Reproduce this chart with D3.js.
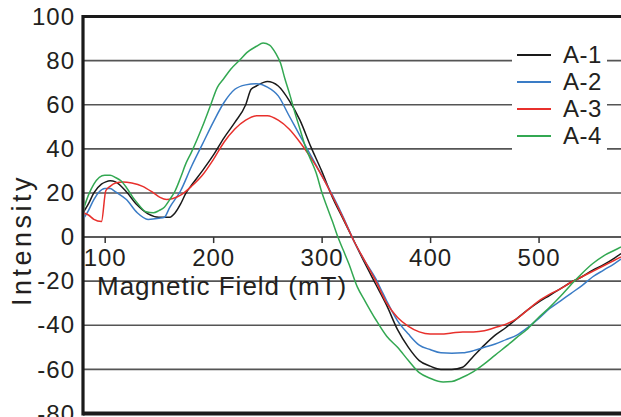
<!DOCTYPE html>
<html>
<head>
<meta charset="utf-8">
<script src="https://cdn.jsdelivr.net/npm/d3@7"></script>
<style>
    html, body { margin: 0; padding: 0; background: #ffffff; overflow: hidden; }
    #wrapper { width: 621px; height: 417px; }
    text { font-family: "Liberation Sans", Arial, sans-serif; fill: #231f20; }
</style>
</head>
<body>
<div id="wrapper"></div>
<script>
// series: field (mT) and intensity
const fieldA1 = [80, 85, 90, 97, 101, 105, 110, 120, 130, 140, 150, 160, 165, 170, 175, 180, 190, 200, 210, 220, 230, 235, 240, 250, 260, 270, 280, 290, 300, 310, 320, 330, 340, 350, 360, 370, 380, 390, 400, 410, 420, 430, 440, 450, 460, 470, 480, 490, 500, 510, 520, 530, 540, 550, 560, 570, 576];
const intensityA1 = [11, 15, 20, 24, 25, 25.5, 25, 20.5, 14.5, 10.5, 9, 9, 11, 15, 20, 23.5, 30, 37, 45, 52, 60, 67, 68.5, 70.5, 68.5, 62, 53, 41, 30, 18, 8, -2, -12, -21.5, -31, -42, -50, -56, -58.5, -60, -60, -59, -54, -49, -44.5, -41, -37, -33, -29.5, -26.5, -23.5, -20.5, -18, -15, -12.5, -9.5, -7.5];

const fieldA2 = [80, 85, 90, 95, 100, 105, 110, 120, 130, 140, 150, 155, 160, 170, 180, 190, 200, 210, 220, 230, 240, 250, 260, 270, 280, 290, 300, 310, 320, 330, 340, 350, 355, 360, 370, 380, 390, 400, 410, 420, 430, 440, 450, 460, 470, 480, 490, 500, 510, 520, 530, 540, 550, 560, 570, 576];
const intensityA2 = [8, 12, 17, 20.5, 22, 22, 20.5, 17, 11, 8, 8.5, 9, 13.5, 21, 32, 42, 52, 61, 67, 69, 69.5, 68, 64, 55, 46, 37, 28, 19, 9, -2, -11, -19, -24, -29, -38, -44, -49, -51, -52.5, -52.7, -52.5, -51.5, -50, -48.5, -46.5, -44.5, -41, -37, -32.5, -29, -25.5, -22, -18, -15, -12, -10];

const fieldA3 = [80, 85, 90, 97, 101, 105, 110, 117, 125, 135, 145, 151, 157, 163, 170, 180, 190, 200, 210, 220, 230, 240, 250, 260, 270, 280, 290, 300, 310, 320, 330, 340, 350, 360, 370, 380, 390, 400, 410, 420, 430, 440, 450, 460, 470, 480, 490, 500, 510, 520, 530, 540, 550, 560, 570, 576];
const intensityA3 = [11, 10, 8, 7, 21, 23, 24.5, 25, 24.5, 23, 20, 18, 17, 17.5, 19, 23, 28, 35, 43, 49, 53, 55, 55, 53, 49, 43, 36, 28, 18.5, 8.5, -2, -11, -20, -30, -36.5, -40.5, -43, -44, -44, -43.5, -43, -43, -42.5, -41, -39.5, -37, -33, -29, -26, -23.5, -20.5, -18, -15.5, -13, -10.5, -9];

const fieldA4 = [80, 85, 90, 100, 105, 110, 115, 120, 126, 130, 138, 145, 150, 155, 160, 165, 170, 175, 180, 190, 197, 204, 210, 216, 225, 231, 240, 246, 252, 258, 262, 266, 271, 275, 280, 285, 290, 295, 300, 305, 310, 315, 320, 325, 333, 340, 350, 360, 370, 380, 390, 400, 412, 420, 428, 440, 450, 460, 474, 480, 489, 500, 510, 520, 532, 540, 550, 560, 570, 576];
const intensityA4 = [12, 19, 24, 28, 28, 27, 25.5, 22.5, 18, 15.5, 11.5, 11, 12, 13.5, 17, 21, 27, 33.5, 38.5, 50, 59, 68, 72, 76, 80.5, 83.6, 86.5, 88, 87, 83, 79, 72, 64, 57, 49, 41, 35, 29, 20.5, 13.6, 7, 0, -6, -12, -22.7, -29, -37.5, -45, -50, -56, -61.5, -64, -65.7, -65.5, -64, -61, -57.5, -53.5, -48, -45.5, -42, -36.5, -32, -27, -20.5, -16.5, -12, -8.5, -6, -4.5];

const seriesNames = ["A-1", "A-2", "A-3", "A-4"];
const seriesColors = ["#1a1a1a", "#3a7cc6", "#e8302c", "#33a852"];
const xTicks = [100, 200, 300, 400, 500];
const yTicks = [-80, -60, -40, -20, 0, 20, 40, 60, 80, 100];

function drawChart() {
    const series = [
        { name: seriesNames[0], fields: fieldA1, values: intensityA1 },
        { name: seriesNames[1], fields: fieldA2, values: intensityA2 },
        { name: seriesNames[2], fields: fieldA3, values: intensityA3 },
        { name: seriesNames[3], fields: fieldA4, values: intensityA4 },
    ];

    let dimensions = {
        width: 621,
        height: 417,
        margin: {
            top: 16.5,
            right: 0,
            bottom: 3.5,
            left: 83
        }
    };
    dimensions.boundedWidth = dimensions.width
        - dimensions.margin.left
        - dimensions.margin.right;
    dimensions.boundedHeight = dimensions.height
        - dimensions.margin.top
        - dimensions.margin.bottom;

    const wrapper = d3.select("#wrapper")
        .append("svg")
        .attr("width", dimensions.width)
        .attr("height", dimensions.height);

    const bounds = wrapper.append("g")
        .attr("transform", `translate(${dimensions.margin.left},${dimensions.margin.top})`);

    const xScale = d3.scaleLinear()
        .domain([80, 576])
        .range([0, dimensions.boundedWidth]);

    const yScale = d3.scaleLinear()
        .domain([-80, 100])
        .range([dimensions.boundedHeight, 0]);

    const colorScale = d3.scaleOrdinal()
        .domain(seriesNames)
        .range(seriesColors);

    // horizontal grid
    bounds.append("g")
        .selectAll("line")
        .data(yTicks.filter(d => d > -80 && d < 100))
        .join("line")
        .attr("x1", 0)
        .attr("x2", dimensions.boundedWidth)
        .attr("y1", d => yScale(d))
        .attr("y2", d => yScale(d))
        .attr("stroke", d => d === 0 ? "#222" : "#555")
        .attr("stroke-width", 1.6);

    // x axis sits on the zero line
    const xAxis = d3.axisBottom(xScale)
        .tickValues(xTicks)
        .tickSize(6)
        .tickPadding(6);
    const xAxisGroup = bounds.append("g")
        .attr("transform", `translate(0,${yScale(0)})`)
        .call(xAxis);
    xAxisGroup.select(".domain").remove();
    xAxisGroup.selectAll(".tick line")
        .attr("stroke", "#333")
        .attr("stroke-width", 1.5);
    xAxisGroup.selectAll(".tick text")
        .attr("font-size", 24)
        .attr("letter-spacing", 1)
        .attr("fill", "#231f20")
        .attr("font-family", "'Liberation Sans', Arial, sans-serif");

    const yAxis = d3.axisLeft(yScale)
        .tickValues(yTicks)
        .tickSize(0)
        .tickPadding(8)
        .tickFormat(d => String(d));
    const yAxisGroup = bounds.append("g").call(yAxis);
    yAxisGroup.select(".domain").remove();
    yAxisGroup.selectAll(".tick text")
        .attr("font-size", 24)
        .attr("letter-spacing", 1)
        .attr("fill", "#231f20")
        .attr("font-family", "'Liberation Sans', Arial, sans-serif");

    // frame: left, top, bottom
    bounds.append("line")
        .attr("x1", 0).attr("x2", dimensions.boundedWidth)
        .attr("y1", 0).attr("y2", 0)
        .attr("stroke", "#1a1a1a").attr("stroke-width", 3);
    bounds.append("line")
        .attr("x1", 0).attr("x2", dimensions.boundedWidth)
        .attr("y1", dimensions.boundedHeight).attr("y2", dimensions.boundedHeight)
        .attr("stroke", "#1a1a1a").attr("stroke-width", 4);
    bounds.append("line")
        .attr("x1", 0).attr("x2", 0)
        .attr("y1", -1.5).attr("y2", dimensions.boundedHeight + 2)
        .attr("stroke", "#1a1a1a").attr("stroke-width", 3.2);

    bounds.append("clipPath")
        .attr("id", "plot-clip")
        .append("rect")
        .attr("x", 1.5)
        .attr("y", 1.5)
        .attr("width", dimensions.boundedWidth)
        .attr("height", dimensions.boundedHeight - 3);

    const lineGenerator = d3.line()
        .x(d => xScale(d[0]))
        .y(d => yScale(d[1]))
        .curve(d3.curveMonotoneX);

    bounds.append("g")
        .attr("clip-path", "url(#plot-clip)")
        .selectAll("path")
        .data(series)
        .join("path")
        .attr("fill", "none")
        .attr("stroke", d => colorScale(d.name))
        .attr("stroke-width", 1.5)
        .attr("stroke-linejoin", "round")
        .attr("d", d => lineGenerator(d.fields.map((f, i) => [f, d.values[i]])));

    // axis titles
    bounds.append("text")
        .attr("x", 14)
        .attr("y", 278)
        .attr("font-size", 26)
        .attr("letter-spacing", 1)
        .text("Magnetic Field (mT)");

    wrapper.append("text")
        .attr("transform", "translate(31,240) rotate(-90)")
        .attr("text-anchor", "middle")
        .attr("font-size", 27)
        .attr("letter-spacing", 3.5)
        .text("Intensity");

    // legend
    const legend = wrapper.append("g");
    legend.append("rect")
        .attr("x", 512)
        .attr("y", 40)
        .attr("width", 95)
        .attr("height", 112)
        .attr("fill", "#ffffff");

    const legendItems = legend.selectAll("g")
        .data(seriesNames)
        .join("g")
        .attr("transform", (d, i) => `translate(517,${55 + i * 27})`);

    legendItems.append("line")
        .attr("x1", 0)
        .attr("x2", 34)
        .attr("stroke", d => colorScale(d))
        .attr("stroke-width", 2);

    legendItems.append("text")
        .attr("x", 46)
        .attr("dy", "0.35em")
        .attr("font-size", 24)
        .attr("letter-spacing", 0.5)
        .text(d => d);
}
drawChart();
</script>
</body>
</html>
